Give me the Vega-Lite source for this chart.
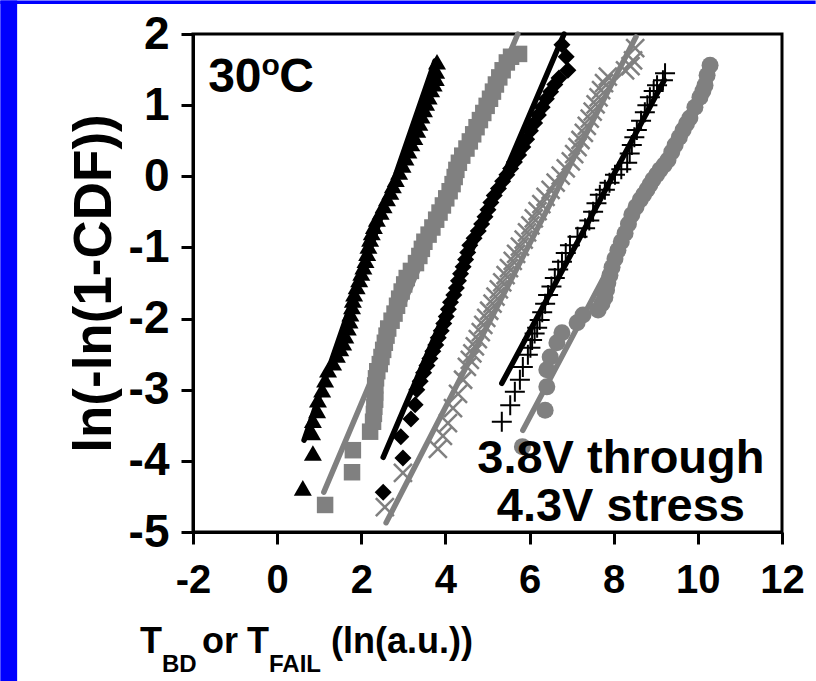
{
  "$schema": "https://vega.github.io/schema/vega-lite/v6.json",
  "width": 589,
  "height": 498,
  "autosize": {"type": "none"},
  "padding": {"left": 193, "top": 34, "right": 34, "bottom": 149},
  "background": "white",
  "config": {
    "view": {"stroke": "black", "strokeWidth": 3},
    "font": "Liberation Sans",
    "axis": {"domainColor": "black", "domainWidth": 3, "tickColor": "black", "tickWidth": 3, "tickSize": 12, "labelColor": "black", "titleColor": "black", "grid": false, "labelFontWeight": "bold", "titleFontWeight": "bold"}
  },
  "datasets": {
    "tri": [
      {"x":0.61,"y":-4.38},{"x":0.85,"y":-3.89},{"x":0.83,"y":-3.60},{"x":0.85,"y":-3.43},{"x":0.95,"y":-3.29},{"x":0.97,"y":-3.14},{"x":1.07,"y":-3.00},{"x":1.14,"y":-2.86},{"x":1.21,"y":-2.72},{"x":1.33,"y":-2.62},{"x":1.42,"y":-2.51},{"x":1.50,"y":-2.42},{"x":1.57,"y":-2.34},{"x":1.62,"y":-2.24},{"x":1.68,"y":-2.13},{"x":1.72,"y":-2.03},{"x":1.74,"y":-1.93},{"x":1.78,"y":-1.83},{"x":1.80,"y":-1.74},{"x":1.83,"y":-1.65},{"x":1.89,"y":-1.55},{"x":1.95,"y":-1.45},{"x":2.00,"y":-1.36},{"x":2.05,"y":-1.27},{"x":2.10,"y":-1.18},{"x":2.14,"y":-1.08},{"x":2.17,"y":-0.98},{"x":2.21,"y":-0.88},{"x":2.25,"y":-0.79},{"x":2.30,"y":-0.70},{"x":2.37,"y":-0.60},{"x":2.46,"y":-0.50},{"x":2.53,"y":-0.41},{"x":2.61,"y":-0.31},{"x":2.69,"y":-0.22},{"x":2.75,"y":-0.13},{"x":2.82,"y":-0.04},{"x":2.90,"y":0.06},{"x":2.98,"y":0.16},{"x":3.05,"y":0.26},{"x":3.12,"y":0.36},{"x":3.19,"y":0.46},{"x":3.26,"y":0.55},{"x":3.33,"y":0.65},{"x":3.38,"y":0.75},{"x":3.43,"y":0.85},{"x":3.49,"y":0.94},{"x":3.54,"y":1.03},{"x":3.60,"y":1.12},{"x":3.66,"y":1.22},{"x":3.72,"y":1.30},{"x":3.77,"y":1.38},{"x":3.78,"y":1.48},{"x":3.80,"y":1.61}
    ],
    "sq": [
      {"x":1.14,"y":-4.62},{"x":1.78,"y":-4.16},{"x":1.80,"y":-3.85},{"x":2.21,"y":-3.59},{"x":2.28,"y":-3.45},{"x":2.30,"y":-3.34},{"x":2.31,"y":-3.24},{"x":2.33,"y":-3.14},{"x":2.33,"y":-3.04},{"x":2.33,"y":-2.94},{"x":2.35,"y":-2.84},{"x":2.38,"y":-2.74},{"x":2.44,"y":-2.64},{"x":2.48,"y":-2.54},{"x":2.52,"y":-2.44},{"x":2.56,"y":-2.34},{"x":2.60,"y":-2.24},{"x":2.64,"y":-2.14},{"x":2.72,"y":-2.03},{"x":2.79,"y":-1.93},{"x":2.85,"y":-1.82},{"x":2.90,"y":-1.72},{"x":2.96,"y":-1.62},{"x":3.02,"y":-1.52},{"x":3.08,"y":-1.43},{"x":3.18,"y":-1.33},{"x":3.30,"y":-1.22},{"x":3.38,"y":-1.12},{"x":3.44,"y":-1.02},{"x":3.50,"y":-0.92},{"x":3.60,"y":-0.82},{"x":3.69,"y":-0.72},{"x":3.78,"y":-0.61},{"x":3.86,"y":-0.51},{"x":3.94,"y":-0.41},{"x":4.02,"y":-0.31},{"x":4.10,"y":-0.21},{"x":4.17,"y":-0.11},{"x":4.22,"y":-0.01},{"x":4.26,"y":0.09},{"x":4.32,"y":0.19},{"x":4.40,"y":0.29},{"x":4.50,"y":0.39},{"x":4.58,"y":0.49},{"x":4.66,"y":0.59},{"x":4.74,"y":0.69},{"x":4.82,"y":0.79},{"x":4.90,"y":0.89},{"x":4.98,"y":0.99},{"x":5.06,"y":1.09},{"x":5.13,"y":1.19},{"x":5.20,"y":1.29},{"x":5.28,"y":1.39},{"x":5.36,"y":1.49},{"x":5.46,"y":1.60},{"x":5.56,"y":1.68},{"x":5.75,"y":1.72}
    ],
    "dia": [
      {"x":2.52,"y":-4.44},{"x":2.99,"y":-3.96},{"x":2.94,"y":-3.66},{"x":3.18,"y":-3.41},{"x":3.28,"y":-3.21},{"x":3.32,"y":-3.00},{"x":3.40,"y":-2.88},{"x":3.48,"y":-2.76},{"x":3.56,"y":-2.66},{"x":3.63,"y":-2.56},{"x":3.70,"y":-2.46},{"x":3.77,"y":-2.37},{"x":3.83,"y":-2.27},{"x":3.90,"y":-2.17},{"x":3.96,"y":-2.07},{"x":4.02,"y":-1.97},{"x":4.07,"y":-1.87},{"x":4.12,"y":-1.77},{"x":4.20,"y":-1.67},{"x":4.26,"y":-1.57},{"x":4.31,"y":-1.47},{"x":4.36,"y":-1.37},{"x":4.42,"y":-1.27},{"x":4.48,"y":-1.17},{"x":4.53,"y":-1.07},{"x":4.58,"y":-0.97},{"x":4.68,"y":-0.87},{"x":4.78,"y":-0.77},{"x":4.86,"y":-0.67},{"x":4.94,"y":-0.57},{"x":5.01,"y":-0.47},{"x":5.08,"y":-0.37},{"x":5.16,"y":-0.27},{"x":5.26,"y":-0.17},{"x":5.36,"y":-0.07},{"x":5.46,"y":0.02},{"x":5.55,"y":0.11},{"x":5.64,"y":0.20},{"x":5.74,"y":0.30},{"x":5.84,"y":0.41},{"x":5.93,"y":0.52},{"x":6.02,"y":0.64},{"x":6.12,"y":0.75},{"x":6.21,"y":0.86},{"x":6.30,"y":0.97},{"x":6.40,"y":1.09},{"x":6.50,"y":1.19},{"x":6.60,"y":1.29},{"x":6.70,"y":1.38},{"x":6.91,"y":1.49},{"x":6.87,"y":1.68},{"x":6.77,"y":1.85}
    ],
    "xs": [
      {"x":2.56,"y":-4.65},{"x":2.99,"y":-4.17},{"x":3.82,"y":-3.83},{"x":3.94,"y":-3.65},{"x":4.06,"y":-3.47},{"x":4.18,"y":-3.26},{"x":4.30,"y":-3.06},{"x":4.42,"y":-2.86},{"x":4.51,"y":-2.68},{"x":4.58,"y":-2.58},{"x":4.64,"y":-2.49},{"x":4.70,"y":-2.39},{"x":4.77,"y":-2.29},{"x":4.84,"y":-2.19},{"x":4.90,"y":-2.09},{"x":4.97,"y":-1.99},{"x":5.04,"y":-1.89},{"x":5.12,"y":-1.79},{"x":5.19,"y":-1.69},{"x":5.27,"y":-1.59},{"x":5.35,"y":-1.49},{"x":5.43,"y":-1.39},{"x":5.51,"y":-1.29},{"x":5.60,"y":-1.19},{"x":5.68,"y":-1.09},{"x":5.77,"y":-0.99},{"x":5.86,"y":-0.89},{"x":5.94,"y":-0.79},{"x":6.02,"y":-0.69},{"x":6.10,"y":-0.59},{"x":6.19,"y":-0.49},{"x":6.28,"y":-0.39},{"x":6.38,"y":-0.29},{"x":6.50,"y":-0.19},{"x":6.62,"y":-0.09},{"x":6.74,"y":0.01},{"x":6.86,"y":0.11},{"x":6.98,"y":0.21},{"x":7.06,"y":0.31},{"x":7.14,"y":0.41},{"x":7.21,"y":0.51},{"x":7.29,"y":0.61},{"x":7.36,"y":0.71},{"x":7.43,"y":0.81},{"x":7.50,"y":0.91},{"x":7.57,"y":1.01},{"x":7.64,"y":1.11},{"x":7.70,"y":1.21},{"x":7.77,"y":1.31},{"x":7.86,"y":1.40},{"x":8.27,"y":1.49},{"x":8.40,"y":1.55},{"x":8.46,"y":1.63},{"x":8.51,"y":1.80}
    ],
    "plus": [
      {"x":5.34,"y":-3.45},{"x":5.54,"y":-3.22},{"x":5.65,"y":-3.03},{"x":5.77,"y":-2.86},{"x":5.84,"y":-2.68},{"x":5.96,"y":-2.51},{"x":6.02,"y":-2.41},{"x":6.06,"y":-2.30},{"x":6.12,"y":-2.21},{"x":6.18,"y":-2.13},{"x":6.24,"y":-2.02},{"x":6.30,"y":-1.91},{"x":6.37,"y":-1.79},{"x":6.44,"y":-1.67},{"x":6.52,"y":-1.55},{"x":6.60,"y":-1.43},{"x":6.68,"y":-1.31},{"x":6.77,"y":-1.20},{"x":6.86,"y":-1.08},{"x":6.96,"y":-0.97},{"x":7.14,"y":-0.85},{"x":7.32,"y":-0.73},{"x":7.42,"y":-0.62},{"x":7.51,"y":-0.50},{"x":7.59,"y":-0.38},{"x":7.67,"y":-0.26},{"x":7.79,"y":-0.19},{"x":7.90,"y":-0.09},{"x":8.03,"y":0.02},{"x":8.18,"y":0.10},{"x":8.32,"y":0.19},{"x":8.38,"y":0.32},{"x":8.43,"y":0.44},{"x":8.49,"y":0.55},{"x":8.55,"y":0.65},{"x":8.65,"y":0.78},{"x":8.74,"y":0.90},{"x":8.80,"y":1.00},{"x":8.86,"y":1.11},{"x":8.95,"y":1.20},{"x":9.03,"y":1.28},{"x":9.17,"y":1.35},{"x":9.22,"y":1.45}
    ],
    "circ": [
      {"x":5.83,"y":-3.80},{"x":6.37,"y":-3.29},{"x":6.41,"y":-2.96},{"x":6.41,"y":-2.72},{"x":6.49,"y":-2.54},{"x":6.65,"y":-2.34},{"x":6.77,"y":-2.20},{"x":7.13,"y":-2.06},{"x":7.27,"y":-1.95},{"x":7.63,"y":-1.88},{"x":7.72,"y":-1.79},{"x":7.79,"y":-1.70},{"x":7.83,"y":-1.60},{"x":7.86,"y":-1.50},{"x":7.91,"y":-1.39},{"x":7.96,"y":-1.28},{"x":8.03,"y":-1.16},{"x":8.10,"y":-1.04},{"x":8.18,"y":-0.92},{"x":8.27,"y":-0.80},{"x":8.35,"y":-0.67},{"x":8.43,"y":-0.54},{"x":8.53,"y":-0.43},{"x":8.63,"y":-0.33},{"x":8.71,"y":-0.26},{"x":8.79,"y":-0.19},{"x":8.86,"y":-0.12},{"x":8.93,"y":-0.05},{"x":9.02,"y":0.02},{"x":9.10,"y":0.09},{"x":9.20,"y":0.16},{"x":9.29,"y":0.23},{"x":9.38,"y":0.34},{"x":9.46,"y":0.44},{"x":9.56,"y":0.55},{"x":9.65,"y":0.65},{"x":9.73,"y":0.74},{"x":9.81,"y":0.82},{"x":9.93,"y":0.97},{"x":10.05,"y":1.11},{"x":10.12,"y":1.20},{"x":10.17,"y":1.28},{"x":10.22,"y":1.42},{"x":10.29,"y":1.56}
    ],
    "fits": [
      {"s":"tri","x":0.64,"y":-3.71},{"s":"tri","x":3.75,"y":1.62},
      {"s":"sq","x":1.11,"y":-4.44},{"s":"sq","x":5.72,"y":2.0},
      {"s":"dia","x":2.52,"y":-3.95},{"s":"dia","x":6.82,"y":2.0},
      {"s":"xs","x":2.59,"y":-4.87},{"s":"xs","x":8.53,"y":1.96},
      {"s":"plus","x":5.34,"y":-2.91},{"s":"plus","x":9.2,"y":1.35},
      {"s":"circ","x":5.84,"y":-3.57},{"s":"circ","x":10.2,"y":1.3}
    ]
  },
  "encoding": {
    "x": {"field": "x", "type": "quantitative", "scale": {"domain": [-2, 12], "nice": false, "zero": false},
      "axis": {"values": [-2, 0, 2, 4, 6, 8, 10, 12], "labelExpr": "'' + datum.value", "title": null, "labelFontSize": 40, "labelPadding": 16, "labelFlush": false, "labelOverlap": false}},
    "y": {"field": "y", "type": "quantitative", "scale": {"domain": [-5, 2], "nice": false, "zero": false},
      "axis": {"values": [-5, -4, -3, -2, -1, 0, 1, 2], "labelExpr": "'' + datum.value", "title": "ln(-ln(1-CDF))", "titleFontSize": 53, "titlePadding": 7, "labelFontSize": 46, "labelPadding": 12, "labelFlush": false, "labelOverlap": false}}
  },
  "layer": [
    {"data": {"values": [{"x": -6.58, "x2": -6.18, "y": -9.2, "y2": 2.47}, {"x": -6.58, "x2": 12.8, "y": 2.42, "y2": 2.47}]},
     "mark": {"type": "rect", "fill": "#0000ff", "clip": false},
     "encoding": {"x2": {"field": "x2"}, "y2": {"field": "y2"}}},
    {"data": {"name": "tri"}, "mark": {"type": "point", "shape": "triangle-up", "filled": true, "color": "black", "size": 324, "opacity": 1, "strokeWidth": 0}},
    {"data": {"name": "sq"}, "mark": {"type": "point", "shape": "square", "filled": true, "color": "#808080", "size": 272, "opacity": 1, "strokeWidth": 0}},
    {"data": {"name": "dia"}, "mark": {"type": "point", "shape": "diamond", "filled": true, "color": "black", "size": 289, "opacity": 1, "strokeWidth": 0}},
    {"data": {"name": "xs"}, "mark": {"type": "point", "shape": "M-1,-1L1,1M-1,1L1,-1", "filled": false, "color": "#808080", "size": 324, "opacity": 1, "strokeWidth": 2.5}},
    {"data": {"name": "plus"}, "mark": {"type": "point", "shape": "M-1,0L1,0M0,-1L0,1", "filled": false, "color": "black", "size": 400, "opacity": 1, "strokeWidth": 2}},
    {"data": {"name": "circ"}, "mark": {"type": "point", "shape": "circle", "filled": true, "color": "#808080", "size": 289, "opacity": 1, "strokeWidth": 0}},
    {"data": {"name": "fits"}, "mark": {"type": "line", "strokeWidth": 5.5, "strokeCap": "round"},
     "encoding": {"color": {"field": "s", "type": "nominal", "scale": {"domain": ["tri", "sq", "dia", "xs", "plus", "circ"], "range": ["black", "#808080", "black", "#808080", "black", "#808080"]}, "legend": null}}},
    {"data": {"values": [{"t": "30", "x": -1.64, "y": 1.18}, {"t": "C", "x": 0.05, "y": 1.18}]},
     "mark": {"type": "text", "align": "left", "baseline": "alphabetic", "fontSize": 48, "fontWeight": "bold", "color": "black"},
     "encoding": {"text": {"field": "t"}}},
    {"data": {"values": [{"t": "o", "x": -0.37, "y": 1.43}]},
     "mark": {"type": "text", "align": "left", "baseline": "alphabetic", "fontSize": 30, "fontWeight": "bold", "color": "black"},
     "encoding": {"text": {"field": "t"}}},
    {"data": {"values": [{"t": "3.8V through", "x": 8.17, "y": -4.17}, {"t": "4.3V stress", "x": 8.17, "y": -4.85}]},
     "mark": {"type": "text", "align": "center", "baseline": "alphabetic", "fontSize": 47, "fontWeight": "bold", "color": "black"},
     "encoding": {"text": {"field": "t"}}},
    {"data": {"values": [{"t": "T", "x": -3.26, "y": -6.70}, {"t": "or", "x": -1.786, "y": -6.70}, {"t": "T", "x": -0.716, "y": -6.70}, {"t": "(ln(a.u.))", "x": 1.28, "y": -6.70}]},
     "mark": {"type": "text", "align": "left", "baseline": "alphabetic", "fontSize": 36, "fontWeight": "bold", "color": "black"},
     "encoding": {"text": {"field": "t"}}},
    {"data": {"values": [{"t": "BD", "x": -2.737, "y": -6.97}, {"t": "FAIL", "x": -0.193, "y": -6.97}]},
     "mark": {"type": "text", "align": "left", "baseline": "alphabetic", "fontSize": 24, "fontWeight": "bold", "color": "black"},
     "encoding": {"text": {"field": "t"}}}
  ]
}
